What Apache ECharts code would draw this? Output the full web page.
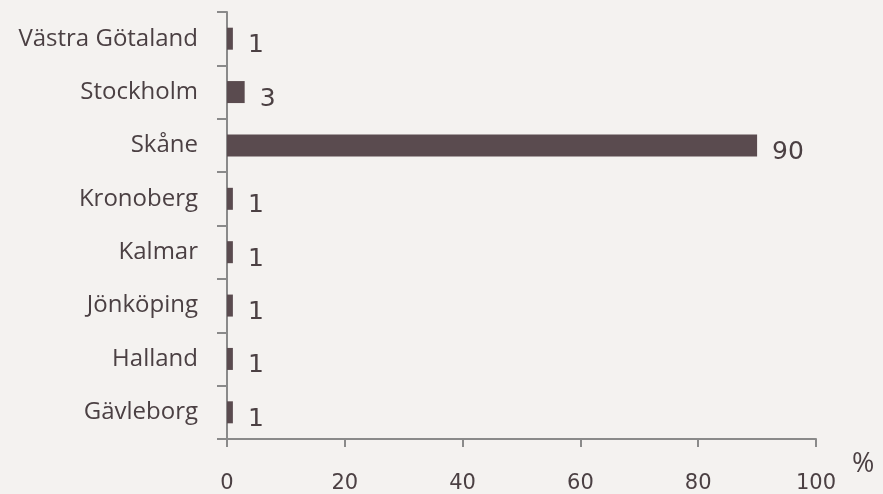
<!DOCTYPE html>
<html>
<head>
<meta charset="utf-8">
<script src="https://cdn.jsdelivr.net/npm/echarts@6/dist/echarts.min.js"></script>
<style>
  html, body { margin: 0; padding: 0; background: #f4f2f0; }
  #chart { width: 883px; height: 494px; }
</style>
</head>
<body>
<div id="chart"></div>
<script>
// Regions, top to bottom, and their share in percent
const regions = ['Västra Götaland', 'Stockholm', 'Skåne', 'Kronoberg', 'Kalmar', 'Jönköping', 'Halland', 'Gävleborg'];
const shares = [1, 3, 90, 1, 1, 1, 1, 1];
const xTicks = { min: 0, max: 100, step: 20 };
const unitLabel = '%';

const ink = '#4b4043';
const barColor = '#5a4b4f';
const axisColor = '#8a8a8a';
const textFont = '"Open Sans", "Noto Sans", sans-serif';
const numberFont = '"DejaVu Sans", "Open Sans", sans-serif';

const chart = echarts.init(document.getElementById('chart'));
chart.setOption({
  backgroundColor: '#f4f2f0',
  animation: false,
  grid: { left: 227, right: 67, top: 12, bottom: 51, containLabel: false },
  xAxis: {
    type: 'value',
    min: xTicks.min,
    max: xTicks.max,
    interval: xTicks.step,
    axisLine: { show: true, lineStyle: { color: axisColor, width: 2 } },
    axisTick: { show: true, length: 8, lineStyle: { color: axisColor, width: 2 } },
    splitLine: { show: false },
    axisLabel: { color: ink, fontSize: 21, fontFamily: numberFont, margin: 34 }
  },
  yAxis: {
    type: 'category',
    data: regions,
    inverse: true,
    axisLine: { show: true, lineStyle: { color: axisColor, width: 2 } },
    axisTick: { show: true, length: 10, lineStyle: { color: axisColor, width: 2 } },
    axisLabel: { color: ink, fontSize: 24, fontFamily: textFont, margin: 29 }
  },
  series: [{
    type: 'bar',
    data: shares,
    barWidth: 22,
    itemStyle: { color: barColor },
    label: {
      show: true,
      position: 'right',
      distance: 15,
      offset: [0, 7],
      color: ink,
      fontSize: 25,
      fontFamily: numberFont
    }
  }],
  graphic: [{
    type: 'text',
    left: 852,
    top: 451,
    style: { text: unitLabel, fill: ink, fontSize: 27, fontFamily: textFont }
  }]
});
</script>
</body>
</html>
